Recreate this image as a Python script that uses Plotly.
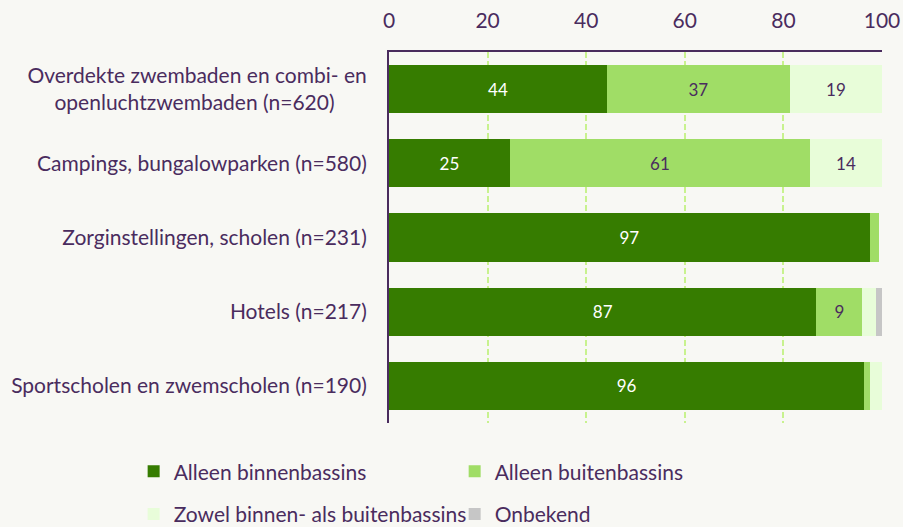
import plotly.graph_objects as go

categories = [
    "Overdekte zwembaden en combi- en<br>openluchtzwembaden (n=620)" + "\u00a0" * 6,
    "Campings, bungalowparken (n=580)",
    "Zorginstellingen, scholen (n=231)",
    "Hotels (n=217)",
    "Sportscholen en zwemscholen (n=190)",
]
series_names = ["Alleen binnenbassins", "Alleen buitenbassins",
                "Zowel binnen- als buitenbassins", "Onbekend"]
binnen = [44.2, 24.5, 97.5, 86.7, 96.4]
buiten = [37.1, 60.9, 1.8, 9.3, 1.2]
zowel = [18.7, 14.6, 0.0, 2.8, 2.4]
onbekend = [0.0, 0.0, 0.0, 1.2, 0.0]
binnen_lbl = ["44", "25", "97", "87", "96"]
buiten_lbl = ["37", "61", "", "9", ""]
zowel_lbl = ["19", "14", "", "", ""]
onbekend_lbl = ["", "", "", "", ""]
x_ticks = [0, 20, 40, 60, 80, 100]

PURPLE = "#4a2c5e"
BG = "#f8f8f4"
colors = ["#367c00", "#a0dd66", "#e8fdd9", "#c6c6c6"]
text_colors = ["white", PURPLE, PURPLE, PURPLE]
values = [binnen, buiten, zowel, onbekend]
labels = [binnen_lbl, buiten_lbl, zowel_lbl, onbekend_lbl]
legend_ids = ["legend", "legend2", "legend3", "legend4"]
# legend positions (container fractions)
legend_pos = [(0.148, 0.105), (0.5035, 0.105), (0.148, 0.024), (0.5035, 0.024)]

fig = go.Figure()
for name, vals, lbl, col, tcol, lg in zip(series_names, values, labels, colors, text_colors, legend_ids):
    fig.add_trace(go.Bar(
        y=categories, x=vals, orientation="h", name=name,
        marker=dict(color=col, line=dict(width=0)),
        text=lbl, texttemplate="%{text}", textposition="inside",
        insidetextanchor="middle",
        textfont=dict(color=tcol, size=17, family="Lato"),
        hoverinfo="skip", legend=lg, showlegend=True,
    ))

legend_layout = {}
for lg, (lx, ly) in zip(legend_ids, legend_pos):
    legend_layout[lg] = dict(
        orientation="h", xref="container", yref="container",
        x=lx, y=ly, xanchor="left", yanchor="middle",
        font=dict(size=21, color=PURPLE, family="Lato"),
        bgcolor="rgba(0,0,0,0)", visible=True,
    )

fig.update_layout(
    barmode="stack", bargap=0.35,
    width=903, height=527, showlegend=True,
    paper_bgcolor=BG, plot_bgcolor=BG,
    font=dict(family="Lato", size=21, color=PURPLE),
    margin=dict(l=389, r=21, t=52, b=104, autoexpand=False),
    uniformtext=dict(mode="show", minsize=10),
    **legend_layout,
)
fig.update_xaxes(
    side="top", range=[0, 100], tickvals=x_ticks,
    showgrid=True, gridcolor="#c8f28e", griddash="6px,3px", gridwidth=2,
    showline=True, linecolor=PURPLE, linewidth=2,
    zeroline=False, ticks="outside", ticklen=14, tickcolor="rgba(0,0,0,0)",
    tickfont=dict(size=21, color=PURPLE),
)
fig.update_yaxes(
    autorange="reversed", showline=True, linecolor=PURPLE, linewidth=2,
    showgrid=False, ticks="outside", ticklen=16, tickcolor="rgba(0,0,0,0)",
    tickfont=dict(size=21, color=PURPLE),
)
fig.write_html("out.html", config={"displayModeBar": False},
               post_script="document.body.style.margin='0';")
